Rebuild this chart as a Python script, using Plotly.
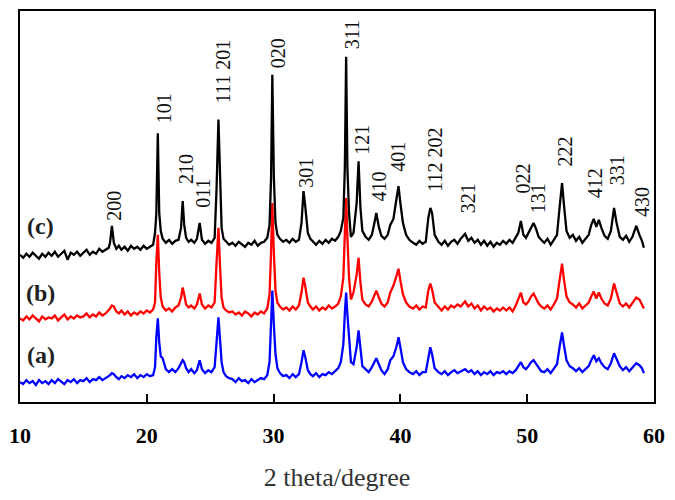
import plotly.graph_objects as go

# 2 theta grid (degree), shared by the three patterns
two_theta = [
    10.0, 10.25, 10.5, 10.75, 11.0, 11.25, 11.5, 11.75, 12.0, 12.25,
    12.5, 12.75, 13.0, 13.25, 13.5, 13.75, 14.0, 14.25, 14.5, 14.75,
    15.0, 15.25, 15.5, 15.75, 16.0, 16.25, 16.5, 16.75, 17.0,
    17.1, 17.25, 17.4, 17.6, 17.8, 18.0, 18.25, 18.5, 18.75, 19.0,
    19.25, 19.5, 19.75, 20.0, 20.25, 20.5,
    20.65, 20.75, 20.87, 20.98, 21.1, 21.25, 21.5, 21.75, 22.0, 22.25,
    22.5, 22.7, 22.83, 22.95, 23.1, 23.3, 23.5, 23.75, 23.95, 24.17, 24.35, 24.6, 24.85, 25.1,
    25.35, 25.5, 25.65, 25.78, 25.9, 26.05, 26.25, 26.5,
    26.75, 27.0, 27.25, 27.5, 27.75, 28.0, 28.25, 28.5, 28.75, 29.0, 29.25, 29.5,
    29.68, 29.8, 29.9, 30.02, 30.15, 30.3, 30.5, 30.75,
    31.0, 31.25, 31.5, 31.75, 32.0, 32.2, 32.36, 32.5, 32.7, 32.9,
    33.1, 33.35, 33.6, 33.85, 34.1, 34.35, 34.6, 34.85, 35.1, 35.3,
    35.5, 35.62, 35.72, 35.82, 35.95, 36.1, 36.3, 36.55, 36.7, 36.85, 37.0,
    37.25, 37.5, 37.75, 37.95, 38.1, 38.3, 38.5, 38.75, 39.0, 39.2, 39.45, 39.7, 39.85, 40.0, 40.2, 40.45, 40.7,
    41.0, 41.25, 41.5, 41.75, 42.0, 42.2, 42.36, 42.5, 42.7, 43.0,
    43.25, 43.5, 43.75, 44.0, 44.25, 44.5, 44.75, 45.1, 45.35, 45.6,
    45.85, 46.1, 46.35, 46.6, 46.85, 47.1, 47.35, 47.6, 47.85, 48.1,
    48.35, 48.6, 48.85, 49.1, 49.3, 49.5, 49.7, 49.9, 50.1, 50.3, 50.5, 50.7, 50.9, 51.1,
    51.35, 51.6, 51.85, 52.1, 52.35, 52.55, 52.75, 52.9, 53.1, 53.35,
    53.6, 53.85, 54.1, 54.35, 54.6, 54.85, 55.05, 55.25, 55.45, 55.65, 55.85, 56.1,
    56.35, 56.6, 56.85, 57.05, 57.3, 57.55, 57.8, 58.05, 58.3, 58.6, 58.85, 59.05, 59.2,
]

# intensities (a.u., patterns already stacked)
int_a = [
    20, 18, 22, 19, 21, 17, 22, 19, 21, 18,
    22, 19, 23, 20, 18, 22, 20, 23, 19, 22,
    21, 24, 20, 23, 22, 25, 22, 24, 26,
    27, 29, 28, 25, 23, 26, 24, 27, 25, 28,
    24, 27, 25, 28, 26, 27,
    35, 65, 84, 60, 46, 44, 33, 30, 33, 30,
    34, 39, 42, 40, 34, 30, 33, 29, 32, 42, 33, 29, 32, 30,
    35, 60, 85, 62, 40, 30, 26, 24,
    23, 20, 24, 21, 22, 19, 23, 20, 22, 24, 23, 27,
    40, 75, 112, 78, 48, 34, 29, 26,
    27, 24, 28, 25, 28, 40, 52, 45, 32, 28,
    26, 29, 25, 28, 27, 30, 28, 31, 34, 40,
    58, 90, 110, 88, 60, 40, 38, 55, 72, 50, 36,
    33, 30, 35, 40, 44, 38, 32, 28, 33, 42, 46, 56, 65, 55, 40, 33, 30,
    28, 31, 27, 30, 30, 45, 55, 48, 34, 30,
    28, 31, 27, 30, 32, 29, 31, 33, 30, 32,
    28, 31, 27, 30, 28, 31, 27, 30, 29, 31,
    28, 31, 29, 32, 36, 40, 35, 33, 36, 40, 42, 38, 34, 31,
    30, 33, 29, 33, 38, 55, 70, 57, 42, 36,
    34, 31, 34, 30, 33, 36, 42, 47, 41, 44, 39, 35,
    33, 39, 49, 43, 36, 32, 35, 31, 35, 39, 37, 34, 29,
]

int_b = [
    84, 82, 86, 83, 87, 84, 81, 86, 83, 85,
    84, 87, 82, 85, 88, 83, 86, 84, 87, 85,
    86, 89, 85, 88, 86, 90, 87, 89, 92,
    94, 97, 96, 91, 89, 92, 88, 91, 87, 90,
    88, 91, 89, 92, 90, 93,
    100, 140, 168, 130, 105, 96, 92, 94, 91, 95,
    97, 105, 115, 108, 98, 95, 97, 94, 98, 109, 98, 94, 97, 95,
    100, 140, 175, 135, 105, 95, 92, 90,
    91, 88, 90, 87, 91, 89, 86, 90, 88, 91, 89, 94,
    108, 150, 200, 150, 112, 100, 96, 93,
    95, 92, 96, 93, 97, 110, 125, 116, 100, 96,
    93, 96, 92, 95, 93, 97, 94, 96, 99, 106,
    125, 170, 205, 165, 125, 103, 110, 128, 145, 120, 103,
    98, 96, 101, 107, 112, 105, 99, 96, 100, 110, 117, 127, 134, 122, 108, 100, 96,
    94, 97, 93, 96, 95, 112, 119, 113, 100, 95,
    92, 96, 93, 97, 95, 98, 96, 101, 96, 99,
    94, 97, 92, 96, 93, 95, 91, 94, 92, 95,
    92, 95, 91, 97, 103, 110, 100, 98, 101, 106, 109, 104, 99, 96,
    94, 97, 93, 98, 104, 122, 139, 123, 106, 100,
    98, 95, 99, 94, 97, 100, 106, 111, 104, 110, 104, 99,
    97, 104, 119, 110, 99, 96, 99, 95, 100, 105, 103, 98, 94,
]

int_c = [
    148, 145, 149, 146, 150, 147, 144, 149, 146, 150,
    147, 151, 146, 149, 152, 143, 150, 148, 151, 147,
    150, 153, 148, 151, 149, 154, 151, 153, 155,
    160, 177, 160, 154, 157, 153, 156, 152, 157, 154,
    156, 153, 157, 154, 156, 158,
    170, 189, 270, 190, 172, 164, 160, 163, 159, 162,
    163, 175, 202, 178, 165, 161, 163, 160, 164, 180, 163, 159, 162, 160,
    165, 214, 284, 215, 175, 164, 161, 158,
    160, 157, 161, 158, 156, 160, 158, 162, 157, 160, 161, 165,
    178, 225, 329, 226, 180, 168, 164, 161,
    163, 160, 164, 161, 163, 180, 212, 196, 170, 164,
    161, 158, 162, 159, 163, 160, 164, 162, 166, 172,
    185, 236, 347, 235, 190, 166, 170, 200, 242, 195, 172,
    166, 163, 168, 180, 190, 176, 167, 164, 168, 178, 184, 205, 217, 200, 180, 168, 163,
    160, 158, 162, 159, 161, 185, 195, 190, 168, 161,
    158, 162, 157, 161, 163, 159, 164, 169, 162, 165,
    160, 163, 158, 162, 157, 161, 156, 160, 158, 162,
    159, 163, 160, 165, 170, 182, 168, 165, 170, 176, 180, 174, 166, 163,
    160, 164, 158, 163, 168, 195, 220, 198, 172, 165,
    168, 162, 166, 160, 164, 168, 178, 184, 176, 183, 175, 167,
    164, 172, 195, 180, 166, 163, 167, 161, 166, 177, 168, 162, 155,
]

# hkl labels and where they sit
hkl_labels = ["200", "101", "210", "011", "111 201", "020", "301", "311", "121", "410",
              "401", "112 202", "321", "022", "131", "222", "412", "331", "430"]
hkl_x = [17.4, 21.34, 23.07, 24.41, 25.98, 30.31, 32.6, 36.14, 37.01, 38.35,
         39.84, 42.76, 45.35, 49.69, 50.87, 52.99, 55.35, 57.09, 59.06]
hkl_y = [197, 295, 234, 210, 332, 350, 230, 369, 264, 217,
         247, 244, 205, 225, 205, 252, 220, 233, 201]

sample_names = ["(a)", "(b)", "(c)"]
sample_y = [47, 110, 177]

fig = go.Figure()
for ys, col in [(int_a, "#0000ff"), (int_b, "#ff0000"), (int_c, "#000000")]:
    fig.add_trace(go.Scatter(x=two_theta, y=ys, mode="lines",
                             line=dict(color=col, width=2.3), showlegend=False))

for lab, x, y in zip(hkl_labels, hkl_x, hkl_y):
    fig.add_annotation(x=x, y=y, text=lab, textangle=-90, showarrow=False,
                       font=dict(family="Liberation Serif", size=20, color="#111"))

for lab, y in zip(sample_names, sample_y):
    fig.add_annotation(x=11.65, y=y, text="<b>" + lab + "</b>", showarrow=False,
                       font=dict(family="Liberation Serif", size=24, color="#222"))

# page body has an 8px margin, so the figure is a bit smaller than the window
fig.update_layout(
    width=659, height=484,
    margin=dict(l=11, r=13, t=1, b=90),
    plot_bgcolor="white", paper_bgcolor="white",
    font=dict(family="Liberation Serif", color="#000"),
)
fig.update_xaxes(
    range=[10, 60], tickvals=[10, 20, 30, 40, 50, 60],
    ticks="inside", ticklen=8, tickwidth=1.5, tickcolor="#000",
    showline=True, linecolor="#000", linewidth=2, mirror=True,
    showgrid=False, zeroline=False,
    tickfont=dict(family="Liberation Serif", size=22, color="#000", weight="bold"),
    ticklabelstandoff=13,
    title=dict(text="2 theta/degree", standoff=20,
               font=dict(family="Liberation Serif", size=26, color="#333")),
)
fig.update_yaxes(
    range=[0, 393], showticklabels=False, ticks="",
    showline=True, linecolor="#000", linewidth=2, mirror=True,
    showgrid=False, zeroline=False,
)

fig.write_html("out.html")
